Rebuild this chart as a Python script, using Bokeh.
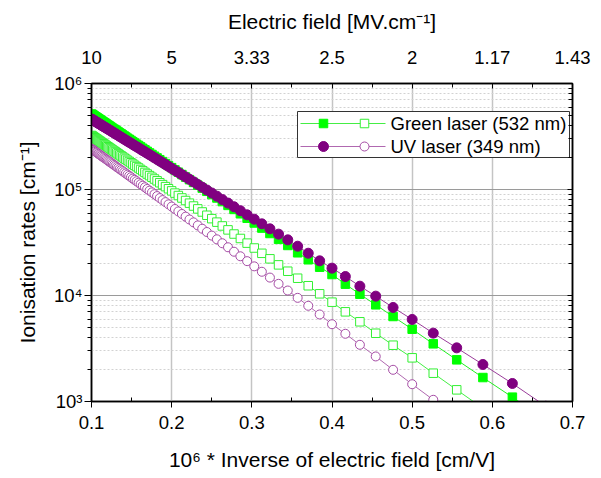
from bokeh.plotting import figure
from bokeh.models import (FixedTicker, LinearAxis, LogAxis, Range1d, LinearScale,
                          CustomJSTickFormatter, ColumnDataSource)
from bokeh.core.properties import value
from bokeh.embed import file_html
from bokeh.resources import INLINE

# ---------------- data ----------------
electric_field = [10.0, 9.9, 9.8, 9.7, 9.6, 9.5, 9.4, 9.3, 9.2, 9.1,
                  9.0, 8.9, 8.8, 8.7, 8.6, 8.5, 8.4, 8.3, 8.2, 8.1,
                  8.0, 7.9, 7.8, 7.7, 7.6, 7.5, 7.4, 7.3, 7.2, 7.1,
                  7.0, 6.9, 6.8, 6.7, 6.6, 6.5, 6.4, 6.3, 6.2, 6.1,
                  6.0, 5.9, 5.8, 5.7, 5.6, 5.5, 5.4, 5.3, 5.2, 5.1,
                  5.0, 4.9, 4.8, 4.7, 4.6, 4.5, 4.4, 4.3, 4.2, 4.1,
                  4.0, 3.9, 3.8, 3.7, 3.6, 3.5, 3.4, 3.3, 3.2, 3.1,
                  3.0, 2.9, 2.8, 2.7, 2.6, 2.5, 2.4, 2.3, 2.2, 2.1,
                  2.0, 1.9, 1.8, 1.7, 1.6, 1.5]  # MV/cm

# log10 of ionisation rate [cm^-1]
green_filled_log_rate = [
    5.712, 5.707, 5.702, 5.696, 5.691, 5.685, 5.680, 5.674, 5.668, 5.662,
    5.656, 5.649, 5.643, 5.636, 5.630, 5.623, 5.616, 5.608, 5.601, 5.593,
    5.585, 5.577, 5.569, 5.561, 5.552, 5.543, 5.534, 5.525, 5.515, 5.505,
    5.495, 5.484, 5.474, 5.463, 5.451, 5.439, 5.427, 5.415, 5.402, 5.388,
    5.374, 5.360, 5.345, 5.330, 5.314, 5.298, 5.281, 5.263, 5.244, 5.225,
    5.206, 5.185, 5.163, 5.141, 5.117, 5.093, 5.067, 5.041, 5.013, 4.983,
    4.952, 4.920, 4.886, 4.850, 4.812, 4.771, 4.729, 4.684, 4.636, 4.585,
    4.530, 4.472, 4.403, 4.337, 4.267, 4.198, 4.107, 4.012, 3.912, 3.802,
    3.682, 3.544, 3.393, 3.226, 3.041, 2.829]
green_open_log_rate = [
    5.510, 5.505, 5.499, 5.494, 5.488, 5.482, 5.477, 5.471, 5.464, 5.458,
    5.452, 5.445, 5.439, 5.432, 5.425, 5.418, 5.410, 5.403, 5.395, 5.387,
    5.379, 5.371, 5.362, 5.354, 5.345, 5.336, 5.326, 5.317, 5.307, 5.296,
    5.286, 5.275, 5.264, 5.252, 5.240, 5.228, 5.216, 5.203, 5.189, 5.176,
    5.161, 5.146, 5.131, 5.115, 5.099, 5.082, 5.064, 5.046, 5.027, 5.007,
    4.987, 4.966, 4.943, 4.920, 4.896, 4.871, 4.844, 4.817, 4.788, 4.757,
    4.725, 4.692, 4.656, 4.619, 4.580, 4.538, 4.494, 4.448, 4.398, 4.346,
    4.289, 4.229, 4.163, 4.092, 4.016, 3.937, 3.846, 3.752, 3.644, 3.531,
    3.412, 3.267, 3.110, 2.937, 2.743, 2.524]
uv_filled_log_rate = [
    5.665, 5.660, 5.655, 5.651, 5.646, 5.640, 5.635, 5.630, 5.624, 5.619,
    5.613, 5.607, 5.601, 5.595, 5.589, 5.583, 5.576, 5.570, 5.563, 5.556,
    5.549, 5.541, 5.534, 5.526, 5.518, 5.510, 5.501, 5.493, 5.484, 5.475,
    5.465, 5.456, 5.446, 5.436, 5.425, 5.414, 5.403, 5.392, 5.380, 5.367,
    5.355, 5.342, 5.328, 5.314, 5.299, 5.284, 5.268, 5.252, 5.235, 5.218,
    5.199, 5.180, 5.161, 5.140, 5.118, 5.096, 5.072, 5.048, 5.022, 4.995,
    4.967, 4.937, 4.905, 4.872, 4.837, 4.800, 4.761, 4.720, 4.676, 4.629,
    4.579, 4.525, 4.465, 4.399, 4.327, 4.258, 4.179, 4.088, 3.994, 3.887,
    3.774, 3.645, 3.506, 3.349, 3.170, 2.955]
uv_open_log_rate = [
    5.385, 5.379, 5.374, 5.368, 5.362, 5.356, 5.350, 5.344, 5.337, 5.331,
    5.324, 5.317, 5.310, 5.303, 5.296, 5.289, 5.281, 5.273, 5.265, 5.257,
    5.248, 5.240, 5.231, 5.222, 5.212, 5.203, 5.193, 5.183, 5.173, 5.162,
    5.151, 5.140, 5.128, 5.116, 5.103, 5.091, 5.078, 5.064, 5.050, 5.036,
    5.021, 5.005, 4.989, 4.973, 4.956, 4.938, 4.919, 4.900, 4.881, 4.860,
    4.839, 4.816, 4.793, 4.769, 4.744, 4.717, 4.690, 4.661, 4.630, 4.599,
    4.565, 4.530, 4.493, 4.455, 4.413, 4.370, 4.324, 4.275, 4.224, 4.169,
    4.110, 4.047, 3.978, 3.903, 3.821, 3.729, 3.639, 3.535, 3.425, 3.299,
    3.163, 3.016, 2.849, 2.662, 2.451, 2.212]

x_ticks = [0.1, 0.2, 0.3, 0.4, 0.5, 0.6, 0.7]
x_minor_ticks = [0.15, 0.25, 0.35, 0.45, 0.55, 0.65]
field_tick_labels = ["10", "5", "3.33", "2.5", "2", "1.17", "1.43"]
y_ticks = [1e3, 1e4, 1e5, 1e6]
y_minor_ticks = [2e3, 3e3, 4e3, 5e3, 6e3, 7e3, 8e3, 9e3,
                 2e4, 3e4, 4e4, 5e4, 6e4, 7e4, 8e4, 9e4,
                 2e5, 3e5, 4e5, 5e5, 6e5, 7e5, 8e5, 9e5]
legend_labels = ["Green laser (532 nm)", "UV laser (349 nm)"]

# ---------------- figure ----------------
FONT = "Liberation Sans"
TICK_SIZE = "18.5px"
TITLE_SIZE = "21px"

inverse_field = [1.0 / e for e in electric_field]
src = ColumnDataSource(dict(
    x=inverse_field,
    gf=[10 ** v for v in green_filled_log_rate],
    go=[10 ** v for v in green_open_log_rate],
    pf=[10 ** v for v in uv_filled_log_rate],
    po=[10 ** v for v in uv_open_log_rate],
))

p = figure(width=601, height=478,
           x_range=Range1d(0.1, 0.7), y_range=Range1d(1e3, 1e6),
           y_axis_type="log", output_backend="svg", toolbar_location=None,
           min_border_left=91, min_border_right=29,
           min_border_top=83, min_border_bottom=77)
p.background_fill_color = "white"
p.border_fill_color = "white"
p.outline_line_color = "black"
p.outline_line_width = 1.5

x_ticker = FixedTicker(ticks=x_ticks, minor_ticks=x_minor_ticks)
y_ticker = FixedTicker(ticks=y_ticks, minor_ticks=y_minor_ticks)

sup_js = """
const sup = {"0":"\u2070","1":"\u00b9","2":"\u00b2","3":"\u00b3","4":"\u2074",
             "5":"\u2075","6":"\u2076","7":"\u2077","8":"\u2078","9":"\u2079","-":"\u207b"};
const e = Math.round(Math.log10(tick));
return "10" + String(e).split("").map(c => sup[c]).join("");
"""

bottom = p.xaxis[0]
bottom.ticker = x_ticker
bottom.axis_label = "10\u2076 * Inverse of electric field [cm/V]"

left = p.yaxis[0]
left.ticker = y_ticker
left.formatter = CustomJSTickFormatter(code=sup_js)
left.axis_label = "Ionisation rates [cm\u207b\u00b9]"

top = LinearAxis(ticker=x_ticker,
                 major_label_overrides={t: l for t, l in zip(x_ticks, field_tick_labels)},
                 axis_label="Electric field [MV.cm\u207b\u00b9]")
right = LogAxis(ticker=y_ticker, formatter=CustomJSTickFormatter(code="return ''"))
p.add_layout(top, "above")
p.add_layout(right, "right")

for ax in (bottom, left, top, right):
    ax.axis_line_color = "black"
    ax.axis_line_width = 1.5
    ax.major_tick_line_color = "black"
    ax.minor_tick_line_color = "black"
    ax.major_tick_line_width = 1
    ax.minor_tick_line_width = 1
    ax.major_label_text_font = FONT
    ax.major_label_text_font_size = TICK_SIZE
    ax.major_label_text_color = "black"
    ax.axis_label_text_font = FONT
    ax.axis_label_text_font_size = TITLE_SIZE
    ax.axis_label_text_font_style = "normal"
    ax.axis_label_text_color = "black"

bottom.major_tick_out = 6
bottom.major_tick_in = 0
bottom.minor_tick_out = 0
bottom.minor_tick_in = 4
bottom.major_label_standoff = 8
bottom.axis_label_standoff = 16

top.major_tick_out = 0
top.major_tick_in = 5
top.minor_tick_out = 0
top.minor_tick_in = 4
top.major_label_standoff = 20
top.axis_label_standoff = 15

left.major_tick_out = 7
left.major_tick_in = 0
left.minor_tick_out = 4
left.minor_tick_in = 0
left.major_label_standoff = 2
left.axis_label_standoff = 12

right.major_tick_out = 0
right.major_tick_in = 5
right.minor_tick_out = 0
right.minor_tick_in = 4
right.major_label_standoff = 0

# grids
p.xgrid[0].ticker = x_ticker
p.xgrid[0].grid_line_color = "#c4c4c4"
p.xgrid[0].grid_line_width = 1.5
p.ygrid[0].ticker = y_ticker
p.ygrid[0].grid_line_color = "#9a9a9a"
p.ygrid[0].grid_line_width = 1
p.ygrid[0].minor_grid_line_color = "#d2d2d2"
p.ygrid[0].minor_grid_line_dash = "2 2"
p.ygrid[0].minor_grid_line_width = 1

# colours
GF, GO = "#00ff00", "#33f033"
PF, PO = "#800080", "#a54ca5"

# series: line then markers
p.line("x", "gf", source=src, line_color="#22ee22", line_width=1)
p.scatter("x", "gf", source=src, marker="square", size=8.5, fill_color=GF, line_color=GF)
p.line("x", "go", source=src, line_color="#44ee44", line_width=1)
p.scatter("x", "go", source=src, marker="square", size=8.5, fill_color="white", line_color=GO, line_width=1)
p.line("x", "pf", source=src, line_color="#9a3d9a", line_width=1)
p.scatter("x", "pf", source=src, marker="circle", size=10, fill_color=PF, line_color=PF)
p.line("x", "po", source=src, line_color="#b068b0", line_width=1)
p.scatter("x", "po", source=src, marker="circle", size=9, fill_color="white", line_color=PO, line_width=1)

# ---------------- legend (drawn in frame-pixel coordinates) ----------------
p.extra_x_ranges = {"px": Range1d(0, 481)}
p.extra_y_ranges = {"py": Range1d(0, 318)}
p.extra_x_scales = {"px": LinearScale()}
p.extra_y_scales = {"py": LinearScale()}

kw = dict(x_range_name="px", y_range_name="py")
p.quad(left=[206], right=[478], bottom=[244], top=[290], fill_color="white",
       line_color="#333333", line_width=1, **kw)
rows = [278, 255]
p.line([209, 294], [rows[0], rows[0]], line_color="#44ee44", line_width=1, **kw)
p.scatter([232], [rows[0]], marker="square", size=8.5, fill_color=GF, line_color=GF, **kw)
p.scatter([273], [rows[0]], marker="square", size=8.5, fill_color="white", line_color=GO, **kw)
p.line([209, 294], [rows[1], rows[1]], line_color="#b068b0", line_width=1, **kw)
p.scatter([232], [rows[1]], marker="circle", size=10, fill_color=PF, line_color=PF, **kw)
p.scatter([273], [rows[1]], marker="circle", size=9, fill_color="white", line_color=PO, **kw)
p.text(x=[299, 299], y=rows, text=legend_labels, text_font=value(FONT),
       text_font_size=value(TICK_SIZE), text_baseline="middle", text_align="left",
       text_color="black", **kw)

open("out.html", "w").write(file_html(p, INLINE))
